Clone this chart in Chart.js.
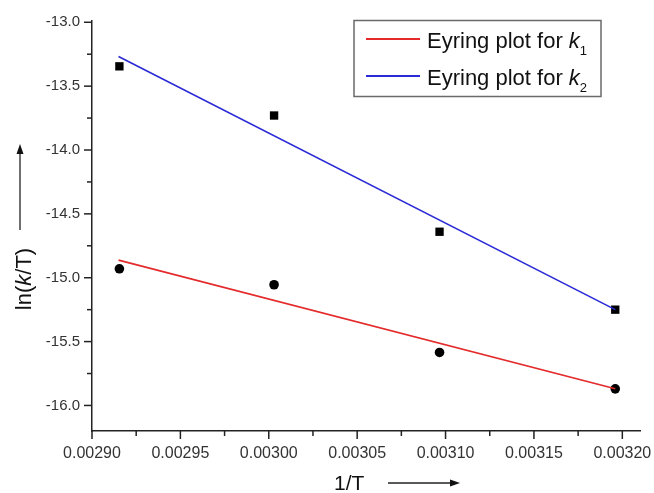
<!DOCTYPE html>
<html>
<head>
<meta charset="utf-8">
<script src="https://cdn.jsdelivr.net/npm/chart.js@4/dist/chart.umd.min.js"></script>
<style>
  html, body { margin: 0; padding: 0; background: #fff; }
  #wrap { width: 654px; height: 493px; position: relative; }
</style>
</head>
<body>
<div id="wrap"><canvas id="eyring"></canvas></div>
<script>
// data
const invT = [0.0029155, 0.003003, 0.0030966, 0.003196]
const lnK1 = [-14.93, -15.055, -15.585, -15.87]
const lnK2 = [-13.345, -13.73, -14.64, -15.25]
// fitted lines (end points)
const fitX = [0.002915, 0.003196]
const fitK1 = [-14.862, -15.87]
const fitK2 = [-13.268, -15.25]
const xTicks = [0.0029, 0.00295, 0.003, 0.00305, 0.0031, 0.00315, 0.0032]
const yTicks = [-13.0, -13.5, -14.0, -14.5, -15.0, -15.5, -16.0]
const legendLabels = ['Eyring plot for ', 'Eyring plot for ']
const legendSubs = ['1', '2']

const RED = '#e42a2a'
const BLUE = '#2a2ad6'
const FONT = 'Arial, "Liberation Sans", sans-serif'

const pts = (xs, ys) => xs.map((x, i) => ({ x: x, y: ys[i] }))

// minor + major tick marks, axis titles with arrows, legend
const decor = {
  id: 'decor',
  afterDraw(chart) {
    const ctx = chart.ctx
    const xs = chart.scales.x, ys = chart.scales.y
    const area = chart.chartArea
    ctx.save()
    ctx.strokeStyle = '#222'
    ctx.lineWidth = 1.5
    // x ticks (down)
    for (let i = 0; i <= 12; i++) {
      const v = 0.0029 + i * 0.000025
      const px = xs.getPixelForValue(v)
      ctx.beginPath()
      ctx.moveTo(px, area.bottom)
      ctx.lineTo(px, area.bottom + (i % 2 ? 5 : 8))
      ctx.stroke()
    }
    // y ticks (left)
    for (let i = 0; i <= 12; i++) {
      const v = -13 - i * 0.25
      const py = ys.getPixelForValue(v)
      ctx.beginPath()
      ctx.moveTo(area.left, py)
      ctx.lineTo(area.left - (i % 2 ? 5 : 8), py)
      ctx.stroke()
    }

    // y title: ln(k/T) rotated, with arrow above
    ctx.fillStyle = '#111'
    ctx.save()
    ctx.translate(31, 279)
    ctx.rotate(-Math.PI / 2)
    const parts = [['ln(', ''], ['k', 'italic '], ['/T)', '']]
    let w = 0
    parts.forEach(p => { ctx.font = p[1] + '22px ' + FONT; w += ctx.measureText(p[0]).width })
    let cx = -w / 2
    ctx.textBaseline = 'alphabetic'
    parts.forEach(p => {
      ctx.font = p[1] + '22px ' + FONT
      ctx.fillText(p[0], cx, 0)
      cx += ctx.measureText(p[0]).width
    })
    ctx.restore()
    ctx.strokeStyle = '#222'
    ctx.lineWidth = 1.3
    ctx.beginPath(); ctx.moveTo(20, 230); ctx.lineTo(20, 152); ctx.stroke()
    ctx.beginPath(); ctx.moveTo(20, 144); ctx.lineTo(16.5, 154); ctx.lineTo(23.5, 154); ctx.closePath(); ctx.fill()

    // x title: 1/T with arrow
    ctx.font = '21px ' + FONT
    ctx.textAlign = 'left'
    ctx.fillText('1/T', 334, 490)
    ctx.beginPath(); ctx.moveTo(388, 483); ctx.lineTo(452, 483); ctx.stroke()
    ctx.beginPath(); ctx.moveTo(460, 483); ctx.lineTo(450, 479.5); ctx.lineTo(450, 486.5); ctx.closePath(); ctx.fill()

    // legend
    ctx.strokeStyle = '#6a6a6a'
    ctx.lineWidth = 1.5
    ctx.strokeRect(354, 20.5, 247, 76)
    const rows = [39, 76]
    const cols = [RED, BLUE]
    rows.forEach((ry, i) => {
      ctx.strokeStyle = cols[i]
      ctx.lineWidth = 1.8
      ctx.beginPath(); ctx.moveTo(366, ry); ctx.lineTo(420, ry); ctx.stroke()
      ctx.fillStyle = '#111'
      ctx.font = '22px ' + FONT
      ctx.fillText(legendLabels[i], 427, ry + 9)
      let tx = 427 + ctx.measureText(legendLabels[i]).width
      ctx.font = 'italic 22px ' + FONT
      ctx.fillText('k', tx, ry + 9)
      tx += ctx.measureText('k').width
      ctx.font = '13px ' + FONT
      ctx.fillText(legendSubs[i], tx, ry + 16)
    })
    ctx.restore()
  }
}

new Chart(document.getElementById('eyring'), {
  type: 'scatter',
  data: {
    datasets: [
      { label: 'k1 fit', data: pts(fitX, fitK1), showLine: true, borderColor: RED, borderWidth: 1.6, pointRadius: 0, fill: false },
      { label: 'k2 fit', data: pts(fitX, fitK2), showLine: true, borderColor: BLUE, borderWidth: 1.6, pointRadius: 0, fill: false },
      { label: 'k1', data: pts(invT, lnK1), pointStyle: 'circle', pointRadius: 4.8, backgroundColor: '#000', borderColor: '#000', borderWidth: 0 },
      { label: 'k2', data: pts(invT, lnK2), pointStyle: 'rect', pointRadius: 5.9, backgroundColor: '#000', borderColor: '#000', borderWidth: 0 }
    ]
  },
  options: {
    responsive: true,
    maintainAspectRatio: false,
    animation: false,
    layout: { padding: { top: 21, right: 14, left: 0, bottom: 0 } },
    plugins: { legend: { display: false }, tooltip: { enabled: false } },
    scales: {
      x: {
        type: 'linear',
        min: 0.0029,
        max: 0.00321,
        afterBuildTicks: s => { s.ticks = xTicks.map(v => ({ value: v })) },
        afterFit: s => { s.height = 62; s.paddingLeft = 0; s.paddingRight = 0 },
        grid: { display: false, drawTicks: false },
        border: { display: true, color: '#222', width: 1.5 },
        ticks: {
          padding: 13,
          color: '#333',
          font: { family: FONT, size: 16 },
          maxRotation: 0,
          callback: v => v.toFixed(5)
        }
      },
      y: {
        type: 'linear',
        min: -16.2,
        max: -12.99,
        afterBuildTicks: s => { s.ticks = yTicks.map(v => ({ value: v })) },
        afterFit: s => { s.width = 92; s.paddingTop = 0; s.paddingBottom = 0 },
        grid: { display: false, drawTicks: false },
        border: { display: true, color: '#222', width: 1.5 },
        ticks: {
          padding: 12,
          color: '#333',
          font: { family: FONT, size: 15 },
          callback: v => v.toFixed(1)
        }
      }
    }
  },
  plugins: [decor]
})
</script>
</body>
</html>
